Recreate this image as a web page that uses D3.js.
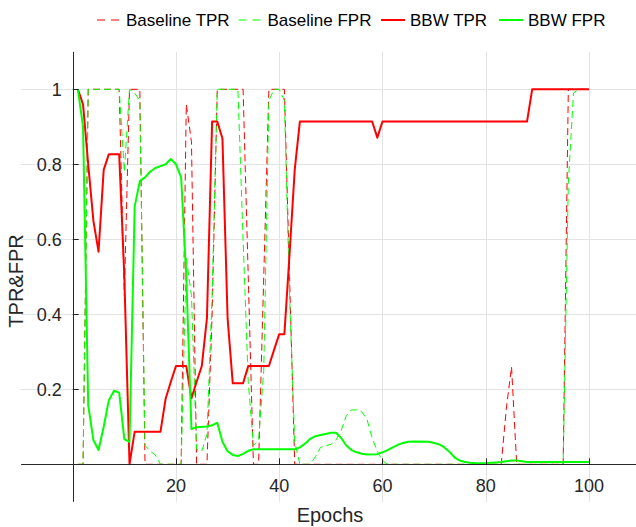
<!DOCTYPE html>
<html>
<head>
<meta charset="utf-8">
<script src="https://cdn.jsdelivr.net/npm/d3@7"></script>
<style>
  body { margin: 0; background: #fff; }
  svg { display: block; font-family: "Liberation Sans", Arial, sans-serif; }
</style>
</head>
<body>
<div id="chart"></div>
<script>
/* breakpoints: epoch -> rate */
const baseTprEpochs = [1, 2, 3, 9, 10, 11, 13, 14, 21, 22, 23, 24, 26, 27, 28, 33, 34, 35, 36, 37, 38, 41, 42, 43, 83, 84, 85, 86, 95, 96, 100];
const baseTprValues = [0, 0, 1, 1, 0.45, 1, 1, 0, 0, 0.96, 0.86, 0, 0, 0.4, 1, 1, 0.5, 0, 0, 0.5, 1, 1, 0.5, 0, 0, 0.15, 0.26, 0, 0, 1, 1];

const baseFprEpochs = [1, 2, 3, 9, 10, 11, 12, 13, 14, 15, 16, 17, 21, 22, 23, 24, 25, 26, 27, 28, 32, 33, 34, 35, 36, 37, 38, 39, 40, 41, 42, 43, 44, 46, 47, 48, 49, 50, 51, 52, 53, 54, 55, 56, 57, 58, 59, 60, 61, 95, 96, 97, 98, 100];
const baseFprValues = [0, 0, 1, 1, 0.78, 1, 0.99, 0.97, 0.05, 0.035, 0.025, 0, 0, 0.55, 0.45, 0.04, 0.035, 0.08, 0.45, 1, 1, 0.6, 0.22, 0.05, 0.065, 0.25, 0.97, 1, 1, 0.97, 0.45, 0.06, 0, 0, 0.02, 0.045, 0.05, 0.053, 0.065, 0.09, 0.13, 0.145, 0.145, 0.14, 0.12, 0.07, 0.035, 0.01, 0, 0, 0.75, 0.99, 1, 1];

const bbwTprEpochs = [1, 2, 3, 4, 5, 6, 7, 9, 10, 11, 12, 17, 18, 19, 20, 22, 23, 24, 25, 26, 27, 28, 29, 30, 31, 33, 34, 38, 39, 40, 41, 42, 43, 44, 58, 59, 60, 88, 89, 100];
const bbwTprValues = [1, 0.96, 0.8, 0.65, 0.567, 0.785, 0.827, 0.827, 0.5, 0, 0.087, 0.087, 0.175, 0.22, 0.262, 0.262, 0.176, 0.22, 0.262, 0.39, 0.914, 0.914, 0.869, 0.389, 0.216, 0.216, 0.262, 0.262, 0.305, 0.347, 0.347, 0.56, 0.785, 0.914, 0.914, 0.871, 0.914, 0.914, 1, 1];

const bbwFprEpochs = [1, 2, 3, 4, 5, 6, 7, 8, 9, 10, 11, 12, 13, 14, 15, 16, 17, 18, 19, 20, 21, 22, 23, 24, 26, 27, 28, 29, 30, 31, 32, 33, 34, 35, 43, 44, 45, 46, 47, 48, 49, 50, 51, 52, 53, 54, 55, 56, 57, 59, 60, 61, 62, 63, 64, 65, 66, 69, 70, 71, 72, 73, 74, 75, 76, 77, 78, 80, 81, 82, 83, 84, 85, 86, 87, 88, 100];
const bbwFprValues = [1, 0.9, 0.158, 0.065, 0.038, 0.1, 0.171, 0.196, 0.191, 0.067, 0.06, 0.687, 0.755, 0.765, 0.78, 0.79, 0.795, 0.8, 0.814, 0.8, 0.765, 0.5, 0.094, 0.099, 0.101, 0.104, 0.111, 0.06, 0.035, 0.025, 0.022, 0.028, 0.036, 0.04, 0.04, 0.045, 0.055, 0.068, 0.075, 0.078, 0.081, 0.084, 0.084, 0.07, 0.05, 0.038, 0.032, 0.028, 0.026, 0.027, 0.032, 0.038, 0.045, 0.052, 0.057, 0.06, 0.061, 0.06, 0.057, 0.053, 0.045, 0.033, 0.018, 0.01, 0.006, 0.004, 0.003, 0.003, 0.004, 0.005, 0.006, 0.008, 0.01, 0.01, 0.008, 0.006, 0.006];

const xTicks = [20, 40, 60, 80, 100];
const yTicks = [0.2, 0.4, 0.6, 0.8, 1];
const yTickLabels = ['0.2', '0.4', '0.6', '0.8', '1'];

const series = [
  { name: 'Baseline TPR', xs: baseTprEpochs, ys: baseTprValues, color: '#ff0000', dash: '7,4', width: 1 },
  { name: 'Baseline FPR', xs: baseFprEpochs, ys: baseFprValues, color: '#00ff00', dash: '7,4', width: 1 },
  { name: 'BBW TPR', xs: bbwTprEpochs, ys: bbwTprValues, color: '#ff0000', dash: null, width: 2 },
  { name: 'BBW FPR', xs: bbwFprEpochs, ys: bbwFprValues, color: '#00ff00', dash: null, width: 2 }
];

const width = 636;
const height = 527;
const axisColor = '#262626';

const x = d3.scaleLinear().domain([-10, 110]).range([21.1, 640.6]);
const y = d3.scaleLinear().domain([-0.1, 1.1]).range([501.8, 51.8]);

const svg = d3.select('#chart')
  .append('svg')
  .attr('width', width)
  .attr('height', height);

svg.append('clipPath').attr('id', 'plot')
  .append('rect')
  .attr('x', x(-10)).attr('y', y(1.1))
  .attr('width', x(110) - x(-10)).attr('height', y(-0.1) - y(1.1));

/* grid */
const grid = svg.append('g').attr('stroke', '#e3e3e3').attr('stroke-width', 1);
grid.selectAll('line.gx').data(xTicks).enter().append('line')
  .attr('x1', d => Math.round(x(d)) + 0.5).attr('x2', d => Math.round(x(d)) + 0.5)
  .attr('y1', y(1.1)).attr('y2', y(-0.1));
grid.selectAll('line.gy').data(yTicks).enter().append('line')
  .attr('y1', d => Math.round(y(d)) + 0.5).attr('y2', d => Math.round(y(d)) + 0.5)
  .attr('x1', x(-10)).attr('x2', x(110));

/* tick labels */
svg.append('g').selectAll('text').data(xTicks).enter().append('text')
  .attr('x', d => x(d)).attr('y', y(0) + 28)
  .attr('text-anchor', 'middle')
  .attr('font-size', 18).attr('fill', axisColor)
  .text(d => d);
svg.append('g').selectAll('text').data(yTicks).enter().append('text')
  .attr('x', x(0) - 11).attr('y', d => y(d)).attr('dy', '0.35em')
  .attr('text-anchor', 'end')
  .attr('font-size', 18).attr('fill', axisColor)
  .text((d, i) => yTickLabels[i]);

/* lines */
const line = d3.line().x(d => x(d[0])).y(d => y(d[1]));
svg.append('g').attr('clip-path', 'url(#plot)')
  .selectAll('path').data(series).enter().append('path')
  .attr('d', s => line(s.xs.map((e, i) => [e, s.ys[i]])))
  .attr('fill', 'none')
  .attr('stroke', s => s.color)
  .attr('stroke-width', s => s.width)
  .attr('stroke-dasharray', s => s.dash)
  .attr('stroke-linejoin', 'round');

/* axes through the origin */
const ax = svg.append('g').attr('stroke', axisColor).attr('stroke-width', 1);
ax.append('line')
  .attr('x1', x(-10)).attr('x2', x(110))
  .attr('y1', Math.round(y(0)) + 0.5).attr('y2', Math.round(y(0)) + 0.5);
ax.append('line')
  .attr('x1', Math.round(x(0)) + 0.5).attr('x2', Math.round(x(0)) + 0.5)
  .attr('y1', y(1.1)).attr('y2', y(-0.1));
ax.selectAll('line.tx').data(xTicks).enter().append('line')
  .attr('x1', d => Math.round(x(d)) + 0.5).attr('x2', d => Math.round(x(d)) + 0.5)
  .attr('y1', y(0)).attr('y2', y(0) - 6);
ax.selectAll('line.ty').data(yTicks).enter().append('line')
  .attr('y1', d => Math.round(y(d)) + 0.5).attr('y2', d => Math.round(y(d)) + 0.5)
  .attr('x1', x(0)).attr('x2', x(0) + 6);

/* axis titles */
svg.append('text')
  .attr('x', 330).attr('y', 522)
  .attr('text-anchor', 'middle')
  .attr('font-size', 20).attr('fill', axisColor)
  .text('Epochs');
svg.append('text')
  .attr('transform', 'translate(23, 281) rotate(-90)')
  .attr('text-anchor', 'middle')
  .attr('font-size', 20).attr('fill', axisColor)
  .text('TPR&FPR');

/* legend */
const legendX = [97, 238.5, 381, 499];
const legend = svg.append('g').selectAll('g').data(series).enter().append('g')
  .attr('transform', (s, i) => `translate(${legendX[i]}, 20)`);
legend.append('line')
  .attr('x1', 0).attr('x2', 24).attr('y1', 0).attr('y2', 0)
  .attr('stroke', s => s.color)
  .attr('stroke-width', s => s.width)
  .attr('stroke-dasharray', s => s.dash ? '8,6' : null);
legend.append('text')
  .attr('x', 29).attr('dy', '0.35em')
  .attr('font-size', 17).attr('fill', '#000')
  .text(s => s.name);
</script>
</body>
</html>
